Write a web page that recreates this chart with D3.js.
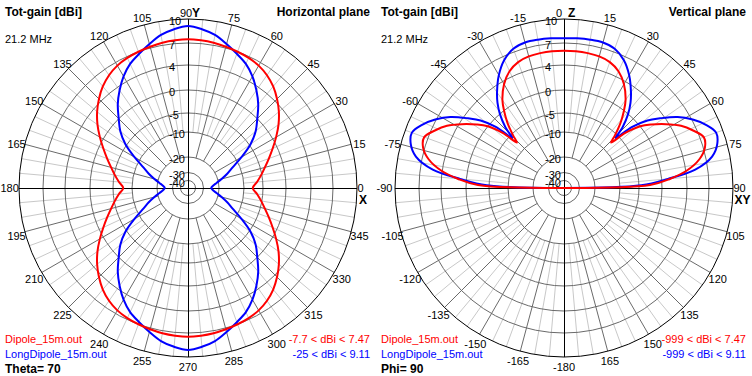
<!DOCTYPE html>
<html>
<head>
<meta charset="utf-8">
<script src="https://cdn.jsdelivr.net/npm/d3@7"></script>
<style>
  body { margin: 0; background: #fff; }
  svg text { font-family: "Liberation Sans", Arial, sans-serif; fill: #000; }
</style>
</head>
<body>
<svg id="chart" width="752" height="376"></svg>
<script>
// ring levels (dBi) and their labels
const ringLevels = [10, 7, 4, 0, -5, -10, -20, -30, -40];
const ringLabels = ["10", "7", "4", "0", "-5", "-10", "-20", "-30", "-40"];

// angle tick labels, one per 15 deg of screen angle (0 = right, counter-clockwise)
const hAngleLabels = ["0","15","30","45","60","75","90","105","120","135","150","165",
  "180","195","210","225","240","255","270","285","300","315","330","345"];
const vAngleLabels = ["90","75","60","45","30","15","0","-15","-30","-45","-60","-75",
  "-90","-105","-120","-135","-150","-165","-180","165","150","135","120","105"];

// horizontal plane (Theta = 70), phi in degrees
const hAngles = [0,5,10,15,20,25,30,35,40,45,50,55,60,65,70,75,80,85,
  90,95,100,105,110,115,120,125,130,135,140,145,150,155,160,165,170,175,
  180,185,190,195,200,205,210,215,220,225,230,235,240,245,250,255,260,265,
  270,275,280,285,290,295,300,305,310,315,320,325,330,335,340,345,350,355];
const hDipole = [-7.7,-6.5,-5.2,-4.0,-2.6,-1.0,0.6,2.0,3.3,4.4,5.3,6.0,6.5,6.8,7.0,7.15,7.3,7.4,
  7.47,7.4,7.3,7.15,7.0,6.8,6.5,6.0,5.3,4.4,3.3,2.0,0.6,-1.0,-2.6,-4.0,-5.2,-6.5,
  -7.7,-6.5,-5.2,-4.0,-2.6,-1.0,0.6,2.0,3.3,4.4,5.3,6.0,6.5,6.8,7.0,7.15,7.3,7.4,
  7.47,7.4,7.3,7.15,7.0,6.8,6.5,6.0,5.3,4.4,3.3,2.0,0.6,-1.0,-2.6,-4.0,-5.2,-6.5];
const hLongDipole = [-25,-23.8,-21.3,-18.5,-15.7,-12.6,-8.5,-4.7,-2.1,0,1.8,3.4,4.8,5.9,6.7,7.5,8.3,8.8,
  9.11,8.8,8.3,7.5,6.7,5.9,4.8,3.4,1.8,0,-2.1,-4.7,-8.5,-12.6,-15.7,-18.5,-21.3,-23.8,
  -25,-23.8,-21.3,-18.5,-15.7,-12.6,-8.5,-4.7,-2.1,0,1.8,3.4,4.8,5.9,6.7,7.5,8.3,8.8,
  9.11,8.8,8.3,7.5,6.7,5.9,4.8,3.4,1.8,0,-2.1,-4.7,-8.5,-12.6,-15.7,-18.5,-21.3,-23.8];

// vertical plane (Phi = 90), theta from zenith in degrees
const vAngles = [-90,-88,-85,-82,-78,-74,-70,-66,-62,-58,-54,-51,-48,-46,-44,-41,-38,-35,-30,-25,-20,-15,-10,-5,
  0,
  5,10,15,20,25,30,35,38,41,44,46,48,51,54,58,62,66,70,74,78,82,85,88,90];
const vDipole = [-999,-2.6,1.4,4.1,6.1,7.2,7.47,6.5,5.3,3.6,1.6,0.0,-3.5,-7.5,-5.4,-2.6,-0.2,1.5,3.5,4.8,5.5,5.8,5.9,5.95,
  5.95,
  5.95,5.9,5.8,5.5,4.8,3.5,1.5,-0.2,-2.6,-5.4,-7.5,-3.5,0.0,1.6,3.6,5.3,6.5,7.47,7.2,6.1,4.1,1.4,-2.6,-999];
const vLongDipole = [-999,-4.5,1.0,5.3,7.8,8.8,9.11,8.3,7.1,5.5,3.3,1.5,-1.5,-5.8,-3.0,-0.1,1.6,3.0,5.0,6.5,7.4,7.7,7.7,7.65,
  7.6,
  7.65,7.7,7.7,7.4,6.5,5.0,3.0,1.6,-0.1,-3.0,-5.8,-1.5,1.5,3.3,5.5,7.1,8.3,9.11,8.8,7.8,5.3,1.0,-4.5,-999];

const seriesNames = ["Dipole_15m.out", "LongDipole_15m.out"];
const hRangeTexts = ["-7.7 < dBi < 7.47", "-25 < dBi < 9.11"];
const vRangeTexts = ["-999 < dBi < 7.47", "-999 < dBi < 9.11"];
const colors = ["#ff0000", "#0000ff"];

const svg = d3.select('#chart');
const cy = 188, cxLocal = 188;

// 4nec2-like log radial scale
const r = d3.scaleLinear()
  .domain([-999, -40, -30, -20, -10, -5, 0, 4, 7, 10])
  .range([0, 7.5, 15.5, 31, 56, 75, 98, 123, 145, 169])
  .clamp(true);
const R = r(10);

const gridAngles = d3.range(0, 360, 5);
const rad = d => d * Math.PI / 180;

const panels = [
  {
    x0: 0, title: "Horizontal plane", cut: "Theta= 70",
    angles: hAngles, series: [hDipole, hLongDipole], ranges: hRangeTexts,
    angleLabels: hAngleLabels, topLetter: "Y", rightLetter: "X",
    angleRange: [0, 2 * Math.PI], closed: true, topNumX: -2, rightLetterX: 175
  },
  {
    x0: 376, title: "Vertical plane", cut: "Phi= 90",
    angles: vAngles, series: [vDipole, vLongDipole], ranges: vRangeTexts,
    angleLabels: vAngleLabels, topLetter: "Z", rightLetter: "XY",
    angleRange: [Math.PI / 2, Math.PI / 2 - 2 * Math.PI], closed: false, topNumX: -5, rightLetterX: 178.5
  }
];

panels.forEach(p => {
  const g = svg.append('g').attr('transform', `translate(${p.x0 + cxLocal},${cy})`);
  const toRad = d3.scaleLinear().domain([0, 360]).range(p.angleRange);

  // minor spokes every 5 deg
  g.selectAll('line.minor')
    .data(gridAngles.filter(a => a % 15 !== 0))
    .join('line')
      .attr('class', 'minor')
      .attr('x1', a => r(-10) * Math.cos(rad(a)))
      .attr('y1', a => -r(-10) * Math.sin(rad(a)))
      .attr('x2', a => R * Math.cos(rad(a)))
      .attr('y2', a => -R * Math.sin(rad(a)))
      .attr('stroke', '#c8c8c8')
      .attr('stroke-width', 1);

  // major spokes every 15 deg
  g.selectAll('line.major')
    .data(gridAngles.filter(a => a % 15 === 0 && a % 90 !== 0))
    .join('line')
      .attr('class', 'major')
      .attr('x1', a => r(-20) * Math.cos(rad(a)))
      .attr('y1', a => -r(-20) * Math.sin(rad(a)))
      .attr('x2', a => R * Math.cos(rad(a)))
      .attr('y2', a => -R * Math.sin(rad(a)))
      .attr('stroke', '#6a6a6a')
      .attr('stroke-width', 1);

  // rings
  g.selectAll('circle.ring')
    .data(ringLevels)
    .join('circle')
      .attr('class', 'ring')
      .attr('r', d => r(d))
      .attr('fill', 'none')
      .attr('stroke', d => d === 10 ? '#000' : '#6a6a6a')
      .attr('stroke-width', 1);

  // axes
  g.append('line').attr('x1', -R).attr('x2', R).attr('y1', 0).attr('y2', 0)
    .attr('stroke', '#000').attr('shape-rendering', 'crispEdges');
  g.append('line').attr('x1', 0).attr('x2', 0).attr('y1', -R).attr('y2', R)
    .attr('stroke', '#000').attr('shape-rendering', 'crispEdges');

  // ring labels
  g.selectAll('text.ring')
    .data(ringLevels)
    .join('text')
      .attr('class', 'ring')
      .attr('x', -19)
      .attr('y', d => -r(d) + 2.5)
      .attr('dy', '0.35em')
      .attr('font-size', 11)
      .text((d, i) => ringLabels[i]);

  // angle labels
  const lr = 177.5;
  const anchorOf = a => a === 0 ? 'start' : a === 180 ? 'start' : 'middle';
  const xOf = a => a === 0 ? 169.5 : a === 180 ? -187.5 : lr * Math.cos(rad(a));
  g.selectAll('text.ang')
    .data(p.angleLabels.map((t, i) => ({t, a: i * 15})).filter(d => d.a !== 90))
    .join('text')
      .attr('class', 'ang')
      .attr('x', d => xOf(d.a))
      .attr('y', d => -lr * Math.sin(rad(d.a)) + (d.a % 180 === 0 ? 0.5 : 2))
      .attr('dy', '0.35em')
      .attr('text-anchor', d => anchorOf(d.a))
      .attr('font-size', 11)
      .text(d => d.t);

  g.append('text')
    .attr('x', p.topNumX).attr('y', -lr + 2.5).attr('dy', '0.35em')
    .attr('text-anchor', 'middle').attr('font-size', 11)
    .text(p.angleLabels[6]);
  g.append('text')
    .attr('x', 4).attr('y', -lr + 2.5).attr('dy', '0.35em')
    .attr('font-size', 12).attr('font-weight', 'bold')
    .text(p.topLetter);
  g.append('text')
    .attr('x', p.rightLetterX).attr('y', 12).attr('dy', '0.35em')
    .attr('text-anchor', 'middle').attr('font-size', 12).attr('font-weight', 'bold')
    .text(p.rightLetter);

  // patterns (blue underneath, red on top)
  const line = d3.line()
    .x(d => r(d[1]) * Math.cos(toRad(d[0])))
    .y(d => -r(d[1]) * Math.sin(toRad(d[0])))
    .curve(p.closed ? d3.curveCatmullRomClosed.alpha(0.5) : d3.curveCatmullRom.alpha(0.5));

  [1, 0].forEach(k => {
    g.append('path')
      .datum(p.angles.map((a, i) => [a, p.series[k][i]]))
      .attr('d', line)
      .attr('fill', 'none')
      .attr('stroke', colors[k])
      .attr('stroke-width', 2)
      .attr('stroke-linejoin', 'round');
  });

  // header texts
  const t = svg.append('g').attr('transform', `translate(${p.x0},0)`);
  t.append('text').attr('x', 5).attr('y', 16).attr('font-size', 12).attr('font-weight', 'bold')
    .text('Tot-gain [dBi]');
  t.append('text').attr('x', 370).attr('y', 16).attr('font-size', 12).attr('font-weight', 'bold')
    .attr('text-anchor', 'end').text(p.title);
  t.append('text').attr('x', 5).attr('y', 43).attr('font-size', 11).text('21.2 MHz');

  // legend
  t.selectAll('text.name').data(seriesNames).join('text')
    .attr('class', 'name')
    .attr('x', 5).attr('y', (d, i) => 343 + i * 15)
    .attr('font-size', 11)
    .style('fill', (d, i) => colors[i])
    .text(d => d);
  t.selectAll('text.range').data(p.ranges).join('text')
    .attr('class', 'range')
    .attr('x', 370).attr('y', (d, i) => 343 + i * 15)
    .attr('text-anchor', 'end')
    .attr('font-size', 11)
    .style('fill', (d, i) => colors[i])
    .text(d => d);
  t.append('text').attr('x', 5).attr('y', 372.5).attr('font-size', 12).attr('font-weight', 'bold')
    .text(p.cut);
});
</script>
</body>
</html>
